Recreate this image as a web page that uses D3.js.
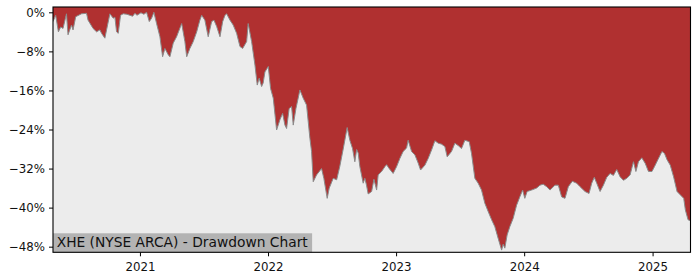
<!DOCTYPE html>
<html>
<head>
<meta charset="utf-8">
<script src="https://cdn.jsdelivr.net/npm/d3@7"></script>
<style>
  html, body { margin: 0; padding: 0; background: #ffffff; }
  svg { display: block; font-family: "DejaVu Sans", sans-serif; }
</style>
</head>
<body>
<svg id="chart" width="700" height="280"></svg>
<script>
// ---- data ----
const title = "XHE (NYSE ARCA) - Drawdown Chart";
// time as decimal years
const years = [
  2020.323, 2020.344, 2020.365, 2020.383, 2020.401, 2020.428, 2020.440, 2020.467, 2020.479, 2020.500,
  2020.545, 2020.584, 2020.596, 2020.635, 2020.662, 2020.688, 2020.701, 2020.727, 2020.740, 2020.766,
  2020.792, 2020.805, 2020.818, 2020.831, 2020.849, 2020.870, 2020.899, 2020.943, 2020.961, 2020.977,
  2021.008, 2021.031, 2021.052, 2021.073, 2021.091, 2021.109, 2021.130, 2021.156, 2021.177, 2021.195,
  2021.221, 2021.234, 2021.260, 2021.286, 2021.326, 2021.351, 2021.365, 2021.390, 2021.416, 2021.443,
  2021.468, 2021.482, 2021.507, 2021.533, 2021.560, 2021.578, 2021.599, 2021.625, 2021.646, 2021.664,
  2021.677, 2021.703, 2021.728, 2021.755, 2021.781, 2021.802, 2021.833, 2021.845, 2021.872, 2021.898,
  2021.916, 2021.931, 2021.950, 2021.962, 2021.976, 2022.002, 2022.020, 2022.041, 2022.067, 2022.093,
  2022.114, 2022.132, 2022.145, 2022.165, 2022.184, 2022.197, 2022.218, 2022.249, 2022.275, 2022.301,
  2022.327, 2022.340, 2022.353, 2022.379, 2022.418, 2022.436, 2022.462, 2022.478, 2022.509, 2022.536,
  2022.561, 2022.587, 2022.618, 2022.639, 2022.660, 2022.678, 2022.692, 2022.704, 2022.717, 2022.743,
  2022.756, 2022.769, 2022.782, 2022.809, 2022.827, 2022.848, 2022.860, 2022.887, 2022.913, 2022.926,
  2022.946, 2022.977, 2023.004, 2023.030, 2023.055, 2023.082, 2023.094, 2023.121, 2023.147, 2023.173,
  2023.191, 2023.225, 2023.251, 2023.277, 2023.303, 2023.329, 2023.355, 2023.381, 2023.399, 2023.433,
  2023.459, 2023.485, 2023.511, 2023.537, 2023.571, 2023.589, 2023.615, 2023.641, 2023.667, 2023.693,
  2023.719, 2023.746, 2023.771, 2023.797, 2023.824, 2023.836, 2023.849, 2023.867, 2023.888, 2023.914,
  2023.941, 2023.966, 2023.988, 2024.005, 2024.023, 2024.058, 2024.097, 2024.123, 2024.148, 2024.175,
  2024.201, 2024.240, 2024.266, 2024.292, 2024.318, 2024.344, 2024.375, 2024.409, 2024.435, 2024.474,
  2024.505, 2024.526, 2024.546, 2024.565, 2024.591, 2024.617, 2024.643, 2024.669, 2024.695, 2024.721,
  2024.747, 2024.773, 2024.799, 2024.825, 2024.851, 2024.870, 2024.890, 2024.916, 2024.942, 2024.968,
  2024.995, 2025.015, 2025.041, 2025.073, 2025.093, 2025.113, 2025.138, 2025.164, 2025.191, 2025.217,
  2025.243, 2025.256, 2025.277, 2025.296
];
// drawdown in percent
const drawdown = [
  -1.9, -0.6, -4.0, -3.0, -3.3, -0.3, -4.6, -2.6, -3.6, -0.9,
  -0.3, -0.2, -1.6, -3.3, -4.0, -3.6, -4.3, -5.3, -3.6, -0.3,
  -1.2, -1.0, -4.0, -4.3, -0.6, -0.3, -0.4, -0.8, -0.2, -0.6,
  -0.1, -0.4, 0.0, -1.9, -1.2, 0.0, -2.3, -5.0, -9.1, -7.4,
  -8.7, -9.1, -6.3, -5.0, -2.3, -6.0, -9.1, -7.4, -6.0, -4.0,
  -1.6, -0.6, -1.6, -5.0, -1.9, -1.6, -2.9, -5.0, -1.9, -0.6,
  -0.3, -1.6, -2.6, -4.3, -7.0, -7.4, -6.0, -2.3, -6.0, -10.8,
  -14.9, -13.5, -15.2, -14.5, -12.2, -11.1, -15.6, -17.6, -24.1, -22.0,
  -20.7, -23.1, -23.8, -19.7, -19.3, -23.1, -19.7, -15.9, -17.6, -19.0,
  -25.8, -28.5, -34.7, -33.3, -32.0, -34.0, -38.1, -36.0, -34.0, -34.3,
  -31.5, -28.0, -23.6, -26.2, -27.9, -30.6, -28.1, -28.8, -31.6, -35.0,
  -34.0, -35.4, -37.2, -36.7, -34.2, -36.4, -33.3, -32.6, -31.6, -31.2,
  -32.0, -33.0, -31.6, -29.9, -28.5, -27.8, -26.2, -28.5, -29.2, -30.9,
  -32.3, -31.3, -29.9, -28.2, -26.3, -26.8, -27.0, -27.5, -29.6, -28.5,
  -26.8, -27.3, -27.9, -26.2, -26.5, -28.9, -34.0, -35.0, -36.4, -39.1,
  -40.8, -42.5, -43.9, -46.3, -48.7, -47.5, -48.3, -45.6, -43.9, -42.2,
  -39.5, -37.8, -36.4, -38.1, -36.7, -36.4, -36.0, -35.4, -35.2, -35.7,
  -36.4, -35.4, -35.4, -37.8, -38.1, -35.7, -34.6, -35.0, -35.7, -36.7,
  -37.1, -35.0, -33.8, -35.0, -36.7, -35.4, -33.8, -33.0, -33.4, -32.2,
  -33.7, -34.4, -34.0, -33.3, -30.6, -32.6, -30.6, -29.8, -30.9, -32.6,
  -32.6, -31.6, -30.2, -28.5, -28.9, -30.2, -31.3, -33.7, -36.7, -37.4,
  -38.1, -40.5, -42.5, -42.7
];
const yTicks = [0, -8, -16, -24, -32, -40, -48];
const xTicks = [2021, 2022, 2023, 2024, 2025];

// ---- helpers ----
function decYearToDate(y) {
  const yr = Math.floor(y);
  const start = new Date(yr, 0, 1).getTime();
  const end = new Date(yr + 1, 0, 1).getTime();
  return new Date(start + (y - yr) * (end - start));
}
const data = years.map((y, i) => ({ date: decYearToDate(y), v: drawdown[i] }));

// ---- layout ----
const svg = d3.select("#chart");
const plot = { left: 53, right: 690.5, top: 7, bottom: 252.3 };

const x = d3.scaleTime()
  .domain(d3.extent(data, d => d.date))
  .range([plot.left, plot.right]);
const y = d3.scaleLinear()
  .domain([-49.15, 1.09])
  .range([plot.bottom, plot.top]);

svg.append("defs").append("clipPath").attr("id", "clip")
  .append("rect")
  .attr("x", plot.left).attr("y", plot.top)
  .attr("width", plot.right - plot.left).attr("height", plot.bottom - plot.top);

// background
svg.append("rect")
  .attr("x", plot.left).attr("y", plot.top)
  .attr("width", plot.right - plot.left).attr("height", plot.bottom - plot.top)
  .attr("fill", "#ececec");

const g = svg.append("g").attr("clip-path", "url(#clip)");

// red area from top of axes down to drawdown curve
const area = d3.area()
  .x(d => x(d.date))
  .y0(y(y.domain()[1]))
  .y1(d => y(d.v));
g.append("path").datum(data)
  .attr("d", area)
  .attr("fill", "#b03030");

const line = d3.line().x(d => x(d.date)).y(d => y(d.v));
g.append("path").datum(data)
  .attr("d", line)
  .attr("fill", "none")
  .attr("stroke", "#8a8a8a")
  .attr("stroke-width", 1);

// label box
const labelG = svg.append("g");
const lbl = labelG.append("text")
  .attr("x", plot.left + 3.7)
  .attr("y", 247.3)
  .attr("font-size", "13.8px")
  .attr("fill", "#111")
  .text(title);
const bb = lbl.node().getBBox();
labelG.insert("rect", "text")
  .attr("x", plot.left)
  .attr("y", 233.3)
  .attr("width", bb.width + 7.5)
  .attr("height", plot.bottom - 233.3)
  .attr("fill", "#b3b3b3");

// axes
const fmtPct = v => (v < 0 ? "\u2212" + Math.abs(v) : v) + "%";
const yAxis = d3.axisLeft(y).tickValues(yTicks).tickFormat(fmtPct).tickSize(4).tickPadding(4);
const xAxis = d3.axisBottom(x)
  .tickValues(xTicks.map(v => new Date(v, 0, 1)))
  .tickFormat(d3.timeFormat("%Y")).tickSize(4).tickPadding(6);

const ya = svg.append("g").attr("transform", `translate(${plot.left},0)`).call(yAxis);
const xa = svg.append("g").attr("transform", `translate(0,${plot.bottom})`).call(xAxis);
[ya, xa].forEach(a => {
  a.select(".domain").remove();
  a.selectAll("text").attr("font-family", "DejaVu Sans, sans-serif").attr("font-size", "11.8px").attr("fill", "#111");
  a.selectAll("line").attr("stroke", "#000").attr("stroke-width", 1);
});

// frame
svg.append("rect")
  .attr("x", plot.left).attr("y", plot.top)
  .attr("width", plot.right - plot.left).attr("height", plot.bottom - plot.top)
  .attr("fill", "none").attr("stroke", "#000").attr("stroke-width", 1.1);
</script>
</body>
</html>
